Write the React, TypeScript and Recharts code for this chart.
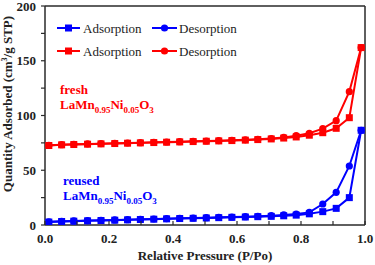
import React from 'react';
import { LineChart, Line, XAxis, YAxis, ReferenceLine } from 'recharts';

const pressure = [0.012, 0.052, 0.09, 0.133, 0.175, 0.218, 0.258, 0.298, 0.34, 0.38, 0.421, 0.463, 0.504, 0.543, 0.584, 0.626, 0.665, 0.707, 0.746, 0.785, 0.826, 0.868, 0.91, 0.951, 0.988];
const freshAdsorption = [72.6, 73.2, 73.5, 73.8, 74.1, 74.4, 74.7, 75.0, 75.3, 75.6, 75.9, 76.2, 76.5, 76.8, 77.1, 77.5, 78.0, 78.6, 79.4, 80.4, 82.0, 84.3, 88.3, 98.0, 162];
const freshDesorption = [72.8, 73.4, 73.7, 74.0, 74.3, 74.6, 74.9, 75.2, 75.5, 75.8, 76.1, 76.4, 76.7, 77.0, 77.4, 77.8, 78.3, 79.0, 80.0, 81.6, 83.8, 88.0, 95.3, 121.8, 162];
const reusedAdsorption = [2.7, 3.2, 3.5, 3.8, 4.1, 4.4, 4.7, 5.0, 5.3, 5.6, 5.9, 6.1, 6.4, 6.7, 7.0, 7.3, 7.6, 7.9, 8.4, 9.0, 10.2, 12.2, 15.2, 25.0, 86.5];
const reusedDesorption = [2.9, 3.4, 3.7, 4.0, 4.3, 4.6, 4.9, 5.2, 5.5, 5.8, 6.1, 6.4, 6.7, 7.0, 7.3, 7.6, 8.0, 8.5, 9.2, 10.0, 11.5, 19.2, 29.8, 53.9, 86.5];
const xTicks = [0, 0.1, 0.2, 0.3, 0.4, 0.5, 0.6, 0.7, 0.8, 0.9, 1.0];
const yTicks = [0, 25, 50, 75, 100, 125, 150, 175, 200];

const RED = '#ff0000';
const BLUE = '#0000ff';
const AXIS = '#2a2a2a';
const FONT = '"Liberation Serif", "Times New Roman", serif';

const toSeries = (ys: number[]) => pressure.map((x, i) => ({ x, y: ys[i] }));

const squareDot = (color: string) => (props: any) => {
  const { cx, cy, index } = props;
  if (cx == null || cy == null) return <g key={`s-${index}`} />;
  return <rect key={`s-${index}`} x={cx - 3.5} y={cy - 3.5} width={7} height={7} fill={color} />;
};
const circleDot = (color: string) => (props: any) => {
  const { cx, cy, index } = props;
  if (cx == null || cy == null) return <g key={`c-${index}`} />;
  return <circle key={`c-${index}`} cx={cx} cy={cy} r={3.6} fill={color} />;
};

const XTick = (props: any) => {
  const { x, y, payload } = props;
  const v = payload.value;
  const major = Math.abs(Math.round(v * 10) % 2) === 0;
  return (
    <g>
      <line x1={x} y1={y} x2={x} y2={y - 4} stroke={AXIS} strokeWidth={1.2} />
      {major && (
        <text x={x} y={y + 18} textAnchor="middle" fontFamily={FONT} fontWeight="bold" fontSize={13} fill="#222">
          {v.toFixed(1)}
        </text>
      )}
    </g>
  );
};

const YTick = (props: any) => {
  const { x, y, payload } = props;
  const v = payload.value;
  const major = v % 50 === 0;
  return (
    <g>
      <line x1={x - 4} y1={y} x2={x} y2={y} stroke={AXIS} strokeWidth={1.2} />
      {major && (
        <text x={x - 9} y={y + 4.5} textAnchor="end" fontFamily={FONT} fontWeight="bold" fontSize={13} fill="#222">
          {v}
        </text>
      )}
    </g>
  );
};

const Formula = ({ x, y, color }: { x: number; y: number; color: string }) => (
  <text x={x} y={y} fontFamily={FONT} fontWeight="bold" fontSize={13} fill={color}>
    LaMn
    <tspan fontSize={9} dy={4}>0.95</tspan>
    <tspan dy={-4}>Ni</tspan>
    <tspan fontSize={9} dy={4}>0.05</tspan>
    <tspan dy={-4}>O</tspan>
    <tspan fontSize={9} dy={4}>3</tspan>
  </text>
);

const LegendRow = ({ y, color }: { y: number; color: string }) => (
  <g>
    <line x1={57} y1={y} x2={80} y2={y} stroke={color} strokeWidth={2} />
    <rect x={65} y={y - 3.5} width={7} height={7} fill={color} />
    <text x={83} y={y + 4.5} fontFamily={FONT} fontSize={13} fill="#222">Adsorption</text>
    <line x1={152} y1={y} x2={177} y2={y} stroke={color} strokeWidth={2} />
    <circle cx={164.5} cy={y} r={3.6} fill={color} />
    <text x={179} y={y + 4.5} fontFamily={FONT} fontSize={13} fill="#222">Desorption</text>
  </g>
);

export default function App() {
  return (
    <div style={{ position: 'absolute', left: 0, top: 0, width: 375, height: 265, background: '#fff' }}>
      <LineChart width={375} height={265} margin={{ top: 6, right: 10, left: 0, bottom: 0 }}>
        <XAxis
          type="number"
          dataKey="x"
          domain={[0, 1]}
          ticks={xTicks}
          interval={0}
          height={40}
          tickSize={0}
          tickMargin={0}
          tickLine={false}
          tick={<XTick />}
          stroke={AXIS}
          strokeWidth={1.5}
          allowDataOverflow
        />
        <YAxis
          type="number"
          domain={[0, 200]}
          ticks={yTicks}
          interval={0}
          width={45}
          tickSize={0}
          tickMargin={0}
          tickLine={false}
          tick={<YTick />}
          stroke={AXIS}
          strokeWidth={1.5}
          allowDataOverflow
        />
        <ReferenceLine y={200} stroke={AXIS} strokeWidth={1.5} />
        <ReferenceLine x={1} stroke={AXIS} strokeWidth={1.5} />
        <Line data={toSeries(freshDesorption)} dataKey="y" stroke={RED} strokeWidth={2} dot={circleDot(RED)} isAnimationActive={false} />
        <Line data={toSeries(freshAdsorption)} dataKey="y" stroke={RED} strokeWidth={2} dot={squareDot(RED)} isAnimationActive={false} />
        <Line data={toSeries(reusedAdsorption)} dataKey="y" stroke={BLUE} strokeWidth={2} dot={squareDot(BLUE)} isAnimationActive={false} />
        <Line data={toSeries(reusedDesorption)} dataKey="y" stroke={BLUE} strokeWidth={2} dot={circleDot(BLUE)} isAnimationActive={false} />
      </LineChart>
      <svg width={375} height={265} style={{ position: 'absolute', left: 0, top: 0, pointerEvents: 'none' }}>
        <LegendRow y={28} color={BLUE} />
        <LegendRow y={51} color={RED} />
        <text x={60} y={94} fontFamily={FONT} fontWeight="bold" fontSize={13} fill={RED}>fresh</text>
        <Formula x={60} y={108.5} color={RED} />
        <text x={63} y={185} fontFamily={FONT} fontWeight="bold" fontSize={13} fill={BLUE}>reused</text>
        <Formula x={63} y={200} color={BLUE} />
        <text x={205} y={260} textAnchor="middle" fontFamily={FONT} fontWeight="bold" fontSize={13} fill="#222">
          Relative Pressure (P/Po)
        </text>
        <text x={11.5} y={104} transform="rotate(-90 11.5 104)" textAnchor="middle" fontFamily={FONT} fontWeight="bold" fontSize={13} fill="#222">
          Quantity Adsorbed (cm<tspan fontSize={8} dy={-5}>3</tspan><tspan dy={5}>/g STP)</tspan>
        </text>
      </svg>
    </div>
  );
}
